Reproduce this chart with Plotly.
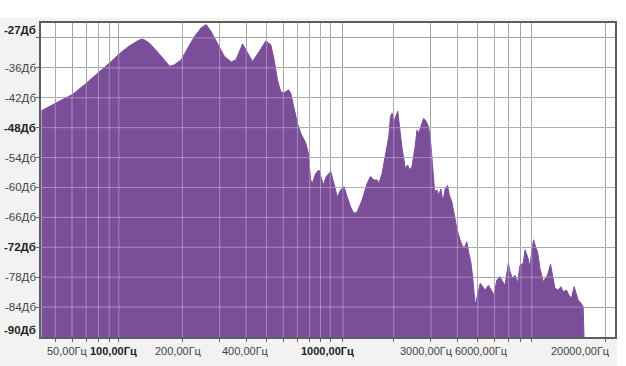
import math
import plotly.graph_objects as go

# ---- spectrum data ----
freqs_hz = [43, 47, 53, 61, 70, 81, 91, 101, 112, 125,
            130, 140, 153, 159, 174, 183, 197, 212, 228, 245,
            259, 273, 294, 316, 340, 358, 385, 404, 429, 462,
            496, 524, 543, 563, 584, 606, 635, 651, 675, 700,
            726, 766, 788, 809, 823, 854, 886, 912, 928, 959,
            1006, 1042, 1080, 1121, 1162, 1204, 1249, 1295, 1342, 1417,
            1496, 1552, 1609, 1668, 1699, 1761, 1827, 1894, 1929, 1963,
            2000, 2059, 2088, 2134, 2188, 2270, 2328, 2379, 2439, 2531,
            2575, 2624, 2690, 2770, 2852, 2924, 2999, 3065, 3122, 3201,
            3261, 3343, 3416, 3507, 3596, 3663, 3767, 3867, 3977, 4096,
            4200, 4310, 4434, 4517, 4631, 4732, 4857, 4981, 5129, 5276,
            5415, 5613, 5817, 5970, 6142, 6374, 6486, 6727, 6973, 7102,
            7283, 7499, 7714, 7918, 8207, 8360, 8598, 8828, 8982, 9178,
            9381, 9585, 9838, 10198, 10686, 11040, 11283, 11581, 12003, 12361,
            12673, 13136, 13483, 13870, 14281, 14643, 14915, 15359, 15749, 15900,
            15950]

level_db = [-44.6, -43.7, -42.6, -41.2, -39.1, -36.8, -34.9, -33.1, -31.6, -30.4,
            -30.2, -31.1, -32.8, -33.7, -35.7, -35.4, -34.4, -32.0, -29.7, -28.0,
            -27.3, -28.7, -31.4, -33.7, -34.8, -34.4, -31.2, -32.7, -34.7, -32.7,
            -30.6, -31.4, -34.4, -38.4, -40.8, -41.0, -40.4, -41.1, -43.8, -47.1,
            -49.1, -51.1, -53.1, -58.5, -59.2, -57.2, -56.5, -58.5, -59.5, -57.8,
            -56.8, -59.2, -61.9, -60.5, -59.8, -61.9, -63.9, -65.2, -64.9, -62.5,
            -59.2, -57.8, -58.5, -58.5, -59.2, -57.2, -53.8, -49.8, -45.8, -45.1,
            -46.8, -45.1, -44.7, -48.1, -52.1, -56.2, -55.5, -56.5, -55.8, -51.5,
            -48.5, -49.1, -47.5, -46.1, -46.8, -47.8, -51.5, -57.5, -60.8, -60.5,
            -61.5, -60.3, -62.9, -60.2, -59.6, -61.5, -62.9, -65.5, -68.2, -70.2,
            -71.5, -72.2, -70.9, -72.9, -74.9, -78.2, -83.6, -81.6, -79.2, -79.9,
            -80.6, -79.6, -80.9, -81.6, -78.6, -77.9, -78.6, -79.6, -75.2, -76.9,
            -78.2, -77.6, -79.2, -75.6, -75.2, -72.5, -73.9, -75.9, -72.9, -70.5,
            -71.9, -72.9, -76.2, -78.9, -77.6, -75.4, -77.6, -80.2, -80.6, -79.9,
            -80.9, -80.6, -81.6, -82.2, -79.9, -81.6, -82.6, -83.2, -83.9, -90.0,
            -96.0]

# ---- axes: gridlines and labels ----
grid_freqs = [50, 60, 70, 80, 90, 100, 200, 300, 400, 500, 600, 700, 800, 900,
              1000, 1150, 2000, 3000, 4000, 5000, 6000, 7000, 8000, 9000, 20000]
grid_db = [-30, -36, -42, -48, -54, -60, -66, -72, -78, -84]

x_label_freqs = [50, 100, 200, 400, 1000, 3000, 6000, 20000]
x_label_text = ["50,00Гц", "100,00Гц", "200,00Гц", "400,00Гц",
                "1000,00Гц", "3000,00Гц", "6000,00Гц", "20000,00Гц"]
x_label_bold = [False, True, False, False, True, False, False, False]
x_label_shift = [12, -5, -4, -1, -3, -4, -13, -25]

y_label_vals = [-27, -36, -42, -48, -54, -60, -66, -72, -78, -84, -90]
y_label_text = ["-27Дб", "-36Дб", "-42Дб", "-48Дб", "-54Дб", "-60Дб",
                "-66Дб", "-72Дб", "-78Дб", "-84Дб", "-90Дб"]
y_label_bold = [True, False, False, True, False, False, False, True, False, False, True]
y_label_shift = [-7, 0, 0, 0, 0, 0, 0, 0, 0, 0, 7]

X_MIN_HZ, X_MAX_HZ = 42.8, 22290
Y_MIN, Y_MAX = -90, -27
PURPLE = "rgb(123,78,153)"
FONT = "Liberation Sans, Arial, sans-serif"

W, H = 626, 366
ML, MR, MT, MB = 41, 9, 23, 29
PW, PH = W - ML - MR, H - MT - MB

fig = go.Figure()

# baseline for the filled area
fig.add_trace(go.Scatter(x=freqs_hz, y=[Y_MIN - 10] * len(freqs_hz), mode="lines",
                         line=dict(width=0, color=PURPLE), hoverinfo="skip",
                         showlegend=False))
fig.add_trace(go.Scatter(x=freqs_hz, y=level_db, mode="lines",
                         line=dict(width=1, color=PURPLE), fill="tonexty",
                         fillcolor=PURPLE, showlegend=False))

# light overlay gridlines drawn above the fill
ov_x, ov_y = [], []
for f in grid_freqs:
    ov_x += [f, f, None]
    ov_y += [Y_MIN, Y_MAX, None]
for d in grid_db:
    ov_x += [X_MIN_HZ, X_MAX_HZ, None]
    ov_y += [d, d, None]
fig.add_trace(go.Scatter(x=ov_x, y=ov_y, mode="lines",
                         line=dict(width=1, color="rgba(255,255,255,0.33)"),
                         hoverinfo="skip", showlegend=False))

annotations = []
for f, t, b, s in zip(x_label_freqs, x_label_text, x_label_bold, x_label_shift):
    annotations.append(dict(x=math.log10(f), xref="x", y=0, yref="paper",
                            yanchor="top", xanchor="center", yshift=-6, xshift=s,
                            text=f"<b>{t}</b>" if b else t, showarrow=False,
                            font=dict(family=FONT, size=11,
                                      color="#222" if b else "#444")))
for v, t, b, s in zip(y_label_vals, y_label_text, y_label_bold, y_label_shift):
    annotations.append(dict(x=0, xref="paper", y=v, yref="y", xanchor="right",
                            yanchor="middle", xshift=-3, yshift=s,
                            text=f"<b>{t}</b>" if b else t, showarrow=False,
                            font=dict(family=FONT, size=11.5,
                                      color="#222" if b else "#444")))

shapes = [
    dict(type="rect", xref="paper", yref="paper", layer="below",
         x0=-ML / PW, x1=1 + 2 / PW, y0=-MB / PH, y1=1 + 5 / PH,
         fillcolor="#f2f2f2", line=dict(width=0)),
    dict(type="rect", xref="paper", yref="paper", layer="below",
         x0=0, x1=1, y0=0, y1=1, fillcolor="white", line=dict(width=0)),
]

fig.update_layout(
    width=W, height=H,
    margin=dict(l=ML, r=MR, t=MT, b=MB, pad=0),
    paper_bgcolor="white", plot_bgcolor="rgba(0,0,0,0)",
    showlegend=False,
    annotations=annotations, shapes=shapes,
    font=dict(family=FONT, size=11, color="#444"),
)
fig.update_xaxes(type="log", range=[math.log10(X_MIN_HZ), math.log10(X_MAX_HZ)],
                 tickmode="array", tickvals=grid_freqs, showticklabels=False,
                 ticks="outside", ticklen=3, tickcolor="#666",
                 showgrid=True, gridcolor="#8e8e8e", gridwidth=1,
                 showline=True, mirror=True, linecolor="#5e5e5e", linewidth=1.5,
                 zeroline=False)
fig.update_yaxes(range=[Y_MIN, Y_MAX], tickmode="array", tickvals=grid_db,
                 showticklabels=False, ticks="outside", ticklen=3, tickcolor="#666",
                 showgrid=True, gridcolor="#8e8e8e", gridwidth=1,
                 showline=True, mirror=True, linecolor="#5e5e5e", linewidth=1.5,
                 zeroline=False)

fig.write_html("out.html",
               config={"displayModeBar": False},
               post_script="document.body.style.margin='0';"
                           "document.body.style.overflow='hidden';")
